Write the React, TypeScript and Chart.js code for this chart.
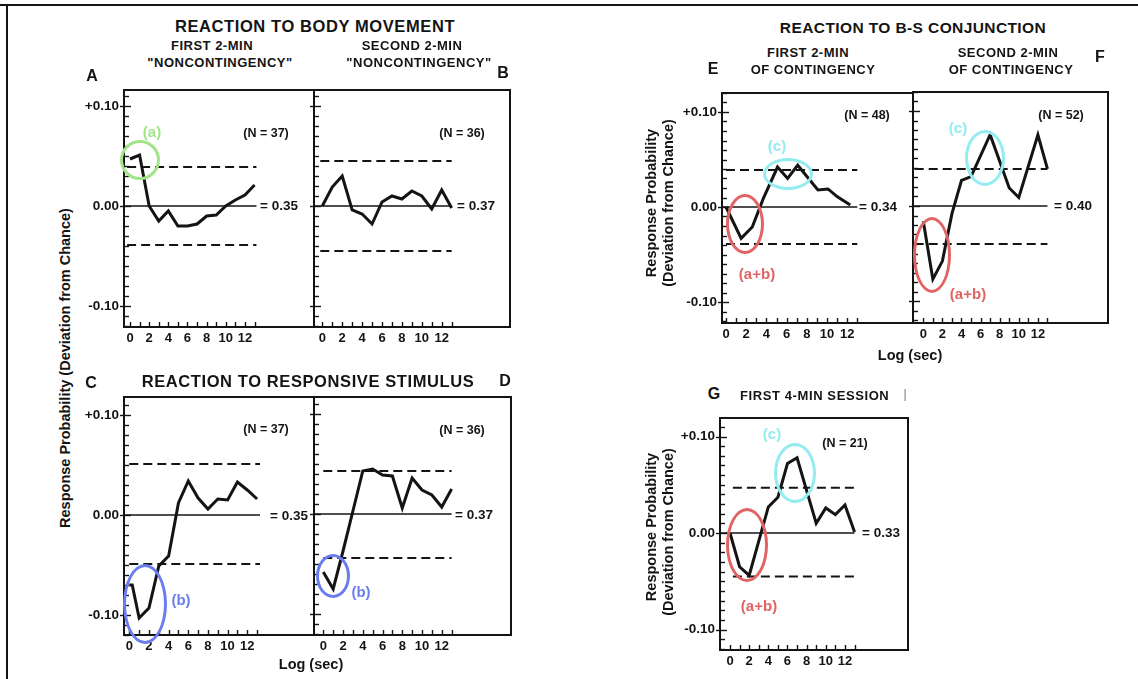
import React, { useEffect, useRef } from "react";
import { Chart, registerables } from "chart.js";

Chart.register(...registerables);

const FONT = '"Liberation Sans", Arial, Helvetica, sans-serif';
const INK = "#141414";

// ---------- tick labels ----------
const xTickValues = [0, 2, 4, 6, 8, 10, 12];
const xTickLabels = ["0", "2", "4", "6", "8", "10", "12"];
const yTickValues = [-0.1, 0, 0.1];
const yTickLabels = ["-0.10", "0.00", "+0.10"];

// ---------- data (Log sec vs deviation from chance) ----------
// A: body movement, first 2-min noncontingency
const secA = [0, 1, 2, 3, 4, 5, 6, 7, 8, 9, 10, 11, 12, 13];
const devA = [0.047, 0.051, 0.0, -0.015, -0.005, -0.02, -0.02, -0.018, -0.01, -0.009, 0.0, 0.006, 0.011, 0.021];
const bandA = [0.039, -0.039];
// B: body movement, second 2-min noncontingency
const secB = [0, 1, 2, 3, 4, 5, 6, 7, 8, 9, 10, 11, 12, 13];
const devB = [0.0, 0.019, 0.03, -0.004, -0.008, -0.018, 0.004, 0.01, 0.007, 0.015, 0.01, -0.003, 0.016, -0.002];
const bandB = [0.045, -0.045];
// C: responsive stimulus, first 2-min
const secC = [0, 0.3, 1, 2, 3, 4, 5, 6, 7, 8, 9, 10, 11, 12, 13];
const devC = [-0.07, -0.07, -0.103, -0.093, -0.051, -0.041, 0.012, 0.034, 0.017, 0.006, 0.016, 0.015, 0.033, 0.025, 0.016];
const bandC = [0.051, -0.049];
// D: responsive stimulus, second 2-min
const secD = [0, 1, 2, 3, 4, 5, 6, 7, 8, 9, 10, 11, 12, 13];
const devD = [-0.058, -0.075, -0.037, 0.003, 0.043, 0.045, 0.039, 0.038, 0.006, 0.036, 0.024, 0.019, 0.007, 0.025];
const bandD = [0.043, -0.044];
// E: B-S conjunction, first 2-min of contingency
const secE = [0, 1.5, 2.6, 3.7, 5.1, 6.1, 7.1, 9.1, 10.1, 11, 12.3];
const devE = [0.0, -0.033, -0.021, 0.009, 0.042, 0.03, 0.044, 0.018, 0.019, 0.011, 0.002];
const bandE = [0.039, -0.039];
// F: B-S conjunction, second 2-min of contingency
const secF = [0, 1, 2, 3, 4, 5, 7, 9, 10, 12, 13];
const devF = [-0.016, -0.077, -0.058, -0.008, 0.027, 0.031, 0.075, 0.019, 0.009, 0.075, 0.039];
const bandF = [0.039, -0.04];
// G: first 4-min session
const secG = [0, 1, 2, 4, 5, 6, 7, 9, 10, 11, 12, 13];
const devG = [0.0, -0.035, -0.044, 0.027, 0.037, 0.072, 0.078, 0.01, 0.026, 0.019, 0.029, 0.001];
const bandG = [0.047, -0.045];

// ---------- panel layout ----------
type PanelCfg = {
  xs: number[];
  ys: number[];
  band: number[];
  L: number; R: number; T: number; B: number;
  x0: number; xu: number; y0: number; yk: number;
  showY: boolean;
  lineEnd: number;
  dashStart: number;
};

const panels: PanelCfg[] = [
  { xs: secA, ys: devA, band: bandA, L: 124, R: 314, T: 90, B: 327, x0: 130, xu: 9.58, y0: 206, yk: 1000, showY: true, lineEnd: 13.2, dashStart: -0.3 },
  { xs: secB, ys: devB, band: bandB, L: 314, R: 510, T: 90, B: 327, x0: 322.3, xu: 9.95, y0: 206, yk: 1000, showY: false, lineEnd: 13.0, dashStart: -0.2 },
  { xs: secC, ys: devC, band: bandC, L: 124, R: 314, T: 397, B: 635, x0: 129.3, xu: 9.83, y0: 515, yk: 1000, showY: true, lineEnd: 13.3, dashStart: 0 },
  { xs: secD, ys: devD, band: bandD, L: 314, R: 511, T: 397, B: 635, x0: 323.3, xu: 9.87, y0: 514, yk: 1000, showY: false, lineEnd: 13.0, dashStart: 0 },
  { xs: secE, ys: devE, band: bandE, L: 722, R: 913, T: 93, B: 323, x0: 726, xu: 10.1, y0: 207, yk: 950, showY: true, lineEnd: 13.0, dashStart: 0 },
  { xs: secF, ys: devF, band: bandF, L: 913, R: 1108, T: 92, B: 323, x0: 923.3, xu: 9.55, y0: 206, yk: 950, showY: false, lineEnd: 13.0, dashStart: -0.9 },
  { xs: secG, ys: devG, band: bandG, L: 720, R: 908, T: 418, B: 650, x0: 730, xu: 9.58, y0: 533, yk: 965, showY: true, lineEnd: 13.0, dashStart: 0.3 },
];

const YW = 46;
const PT = 16;
const PR = 4;
const XH = 26;

const framePlugin = {
  id: "frame",
  afterDatasetsDraw(chart: any) {
    const { ctx, chartArea: a, scales } = chart;
    const x = scales.x;
    const y = scales.y;
    ctx.save();
    ctx.strokeStyle = INK;
    ctx.lineWidth = 2;
    ctx.strokeRect(a.left, a.top, a.right - a.left, a.bottom - a.top);
    ctx.lineWidth = 1.4;
    for (let i = -13; i <= 13; i++) {
      const v = i / 100;
      if (v < y.min || v > y.max) continue;
      const py = Math.round(y.getPixelForValue(v)) + 0.5;
      const major = i % 10 === 0;
      ctx.beginPath();
      ctx.moveTo(a.left - (major ? 4 : 0), py);
      ctx.lineTo(a.left + (major ? 7 : 5), py);
      ctx.stroke();
    }
    for (let i = 0; i <= 13; i++) {
      const px = Math.round(x.getPixelForValue(i)) + 0.5;
      ctx.beginPath();
      ctx.moveTo(px, a.bottom);
      ctx.lineTo(px, a.bottom - 5);
      ctx.stroke();
    }
    ctx.restore();
  },
};

function Panel({ p }: { p: PanelCfg }) {
  const ref = useRef<HTMLCanvasElement>(null);
  const W = YW + (p.R - p.L) + PR;
  const H = PT + (p.B - p.T) + XH;
  const left = p.L - YW;
  const top = p.T - PT;

  useEffect(() => {
    const xmin = (p.L - p.x0) / p.xu;
    const xmax = (p.R - p.x0) / p.xu;
    const ymax = (p.y0 - p.T) / p.yk;
    const ymin = (p.y0 - p.B) / p.yk;
    const series = p.xs.map((x, i) => ({ x, y: p.ys[i] }));
    const chart = new Chart(ref.current as HTMLCanvasElement, {
      type: "line",
      data: {
        datasets: [
          { data: series, borderColor: INK, borderWidth: 3, pointRadius: 0, tension: 0, borderJoinStyle: "miter", fill: false } as any,
          { data: [{ x: xmin, y: 0 }, { x: p.lineEnd, y: 0 }], borderColor: INK, borderWidth: 1.5, pointRadius: 0 } as any,
          { data: [{ x: p.dashStart, y: p.band[0] }, { x: p.lineEnd, y: p.band[0] }], borderColor: INK, borderWidth: 2, borderDash: [9, 5], pointRadius: 0 } as any,
          { data: [{ x: p.dashStart, y: p.band[1] }, { x: p.lineEnd, y: p.band[1] }], borderColor: INK, borderWidth: 2, borderDash: [9, 5], pointRadius: 0 } as any,
        ],
      },
      options: {
        responsive: false,
        animation: false,
        devicePixelRatio: 1,
        events: [],
        layout: { padding: { top: PT, right: PR, left: 0, bottom: 0 } },
        plugins: { legend: { display: false }, tooltip: { enabled: false }, title: { display: false } },
        scales: {
          x: {
            type: "linear",
            min: xmin,
            max: xmax,
            bounds: "data",
            afterFit: (s: any) => { s.height = XH; },
            afterBuildTicks: (s: any) => { s.ticks = xTickValues.map((v) => ({ value: v })); },
            grid: { display: false, drawTicks: false },
            border: { display: false },
            ticks: {
              autoSkip: false,
              maxRotation: 0,
              minRotation: 0,
              padding: 4,
              color: INK,
              font: { family: FONT, size: 13, weight: "bold" },
              callback: (_v: any, i: number) => xTickLabels[i],
            },
          },
          y: {
            type: "linear",
            min: ymin,
            max: ymax,
            bounds: "data",
            afterFit: (s: any) => { s.width = YW; },
            afterBuildTicks: (s: any) => { s.ticks = yTickValues.map((v) => ({ value: v })); },
            grid: { display: false, drawTicks: false },
            border: { display: false },
            ticks: {
              display: p.showY,
              autoSkip: false,
              padding: 5,
              color: INK,
              font: { family: FONT, size: 13.5, weight: "bold" },
              callback: (_v: any, i: number) => yTickLabels[i],
            },
          },
        },
      } as any,
      plugins: [framePlugin],
    });
    return () => chart.destroy();
  }, []);

  return (
    <canvas
      ref={ref}
      width={W}
      height={H}
      style={{ position: "absolute", left, top, width: W, height: H }}
    />
  );
}

type TProps = { x: number; y: number; s?: number; c?: string; a?: "c" | "l"; ls?: number; rot?: boolean; w?: number; children: React.ReactNode };
function T({ x, y, s = 13, c = INK, a = "c", ls = 0, rot = false, w = 700, children }: TProps) {
  const tx = a === "c" ? "-50%" : "0";
  return (
    <div
      style={{
        position: "absolute",
        left: x,
        top: y,
        transform: `translate(${tx},-50%)${rot ? " rotate(-90deg)" : ""}`,
        fontFamily: FONT,
        fontSize: s,
        fontWeight: w,
        color: c,
        letterSpacing: ls,
        whiteSpace: "nowrap",
        lineHeight: 1,
      }}
    >
      {children}
    </div>
  );
}

function Ell({ cx, cy, rx, ry, c }: { cx: number; cy: number; rx: number; ry: number; c: string }) {
  return (
    <div
      style={{
        position: "absolute",
        left: cx - rx,
        top: cy - ry,
        width: rx * 2,
        height: ry * 2,
        border: `3px solid ${c}`,
        borderRadius: "50%",
        boxSizing: "border-box",
      }}
    />
  );
}

const GREEN = "#a3e38a";
const BLUE = "#6a7df0";
const RED = "#e06464";
const CYAN = "#92ecf0";

export default function App() {
  return (
    <div style={{ position: "absolute", left: 0, top: 0, width: 1138, height: 679, background: "#fff", overflow: "hidden" }}>
      <div style={{ position: "absolute", left: 0, top: 4, width: 1138, height: 2, background: INK }} />
      <div style={{ position: "absolute", left: 6, top: 4, width: 2, height: 675, background: INK }} />

      {panels.map((p, i) => (
        <Panel key={i} p={p} />
      ))}

      {/* left block titles */}
      <T x={315} y={26} s={16.5} ls={0.6}>REACTION TO BODY MOVEMENT</T>
      <T x={212} y={45} ls={0.5}>FIRST 2-MIN</T>
      <T x={220} y={62} ls={0.5}>"NONCONTINGENCY"</T>
      <T x={412} y={45} ls={0.5}>SECOND 2-MIN</T>
      <T x={419} y={62} ls={0.5}>"NONCONTINGENCY"</T>
      <T x={92} y={76} s={16}>A</T>
      <T x={503} y={73} s={16}>B</T>
      <T x={266} y={133} s={12.5}>(N = 37)</T>
      <T x={462} y={133} s={12.5}>(N = 36)</T>
      <T x={260} y={206} s={13.5} a="l">= 0.35</T>
      <T x={457} y={206} s={13.5} a="l">= 0.37</T>

      <T x={308} y={381} s={16.5} ls={0.6}>REACTION TO RESPONSIVE STIMULUS</T>
      <T x={91} y={383} s={16}>C</T>
      <T x={505} y={381} s={16}>D</T>
      <T x={266} y={429} s={12.5}>(N = 37)</T>
      <T x={462} y={430} s={12.5}>(N = 36)</T>
      <T x={270} y={516} s={13.5} a="l">= 0.35</T>
      <T x={455} y={515} s={13.5} a="l">= 0.37</T>
      <T x={311} y={664} s={14.5}>Log (sec)</T>
      <T x={65} y={368} s={14.5} rot>Response Probability (Deviation from Chance)</T>

      {/* right block titles */}
      <T x={913} y={28} s={15.5} ls={0.4}>REACTION TO B-S CONJUNCTION</T>
      <T x={808} y={52} ls={0.5}>FIRST 2-MIN</T>
      <T x={813} y={69} ls={0.5}>OF CONTINGENCY</T>
      <T x={1008} y={52} ls={0.5}>SECOND 2-MIN</T>
      <T x={1011} y={69} ls={0.5}>OF CONTINGENCY</T>
      <T x={713} y={69} s={16}>E</T>
      <T x={1100} y={57} s={16}>F</T>
      <T x={867} y={115} s={12.5}>(N = 48)</T>
      <T x={1061} y={115} s={12.5}>(N = 52)</T>
      <T x={859} y={207} s={13.5} a="l">= 0.34</T>
      <T x={1054} y={206} s={13.5} a="l">= 0.40</T>
      <T x={910} y={355} s={14.5}>Log (sec)</T>
      <T x={651} y={203} s={14.5} rot>Response Probability</T>
      <T x={668} y={203} s={14.5} rot>(Deviation from Chance)</T>

      <T x={714} y={394} s={16}>G</T>
      <T x={740} y={395} a="l" ls={0.6}>FIRST 4-MIN SESSION</T>
      <T x={905} y={394} s={12} w={400} c="#777">|</T>
      <T x={845} y={443} s={12.5}>(N = 21)</T>
      <T x={862} y={533} s={13.5} a="l">= 0.33</T>
      <T x={651} y={527} s={14.5} rot>Response Probability</T>
      <T x={668} y={532} s={14.5} rot>(Deviation from Chance)</T>

      {/* annotations */}
      <Ell cx={140} cy={160} rx={20} ry={20} c={GREEN} />
      <T x={152} y={131} s={15} c={GREEN}>(a)</T>
      <Ell cx={145} cy={604} rx={22} ry={40} c={BLUE} />
      <T x={181} y={599} s={15} c={BLUE}>(b)</T>
      <Ell cx={333} cy={576} rx={17} ry={22} c={BLUE} />
      <T x={361} y={591} s={15} c={BLUE}>(b)</T>
      <Ell cx={745} cy={224} rx={19} ry={30} c={RED} />
      <T x={757} y={273} s={15} c={RED}>(a+b)</T>
      <Ell cx={788} cy={174} rx={25} ry={16} c={CYAN} />
      <T x={777} y={145} s={15} c={CYAN}>(c)</T>
      <Ell cx={932} cy={255} rx={19} ry={38} c={RED} />
      <T x={968} y={293} s={15} c={RED}>(a+b)</T>
      <Ell cx={985} cy={158} rx={20} ry={28} c={CYAN} />
      <T x={958} y={127} s={15} c={CYAN}>(c)</T>
      <Ell cx={747} cy={545} rx={21} ry={37} c={RED} />
      <T x={759} y={605} s={15} c={RED}>(a+b)</T>
      <Ell cx={795} cy={473} rx={21} ry={30} c={CYAN} />
      <T x={772} y={433} s={15} c={CYAN}>(c)</T>
    </div>
  );
}
